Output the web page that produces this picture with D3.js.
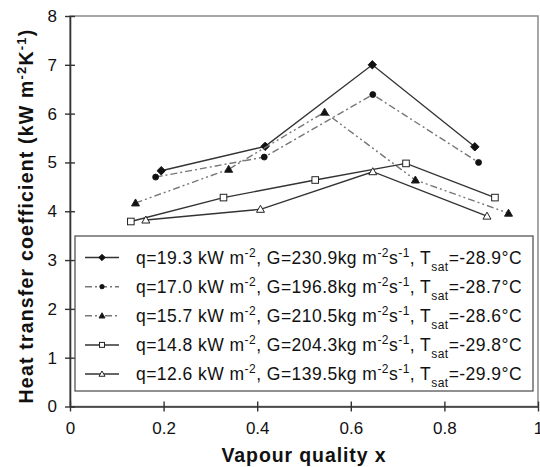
<!DOCTYPE html>
<html>
<head>
<meta charset="utf-8">
<script src="https://cdn.jsdelivr.net/npm/d3@7"></script>
<style>
  html, body { margin: 0; padding: 0; background: #fff; }
  svg { display: block; font-family: "Liberation Sans", Arial, sans-serif; }
</style>
</head>
<body>
<svg id="chart" width="540" height="467"></svg>
<script>
// Vapour quality (x) and heat transfer coefficient (kW m-2 K-1) for each test run
const s1x = [0.195, 0.417, 0.646, 0.865];
const s1y = [4.83, 5.33, 7.00, 5.32];
const s2x = [0.183, 0.415, 0.647, 0.873];
const s2y = [4.70, 5.11, 6.39, 5.00];
const s3x = [0.140, 0.339, 0.544, 0.738, 0.937];
const s3y = [4.17, 4.86, 6.03, 4.64, 3.96];
const s4x = [0.130, 0.328, 0.524, 0.718, 0.908];
const s4y = [3.79, 4.28, 4.64, 4.98, 4.28];
const s5x = [0.162, 0.407, 0.647, 0.891];
const s5y = [3.82, 4.04, 4.81, 3.90];

const xTicks = [0, 0.2, 0.4, 0.6, 0.8, 1];
const yTicks = [0, 1, 2, 3, 4, 5, 6, 7, 8];

// Legend text pieces: q, G, Tsat
const legendQ = ["19.3", "17.0", "15.7", "14.8", "12.6"];
const legendG = ["230.9", "196.8", "210.5", "204.3", "139.5"];
const legendT = ["-28.9", "-28.7", "-28.6", "-29.8", "-29.9"];

const series = [
  { x: s1x, y: s1y, marker: "diamond", fill: true,  dash: null,          color: "#333" },
  { x: s2x, y: s2y, marker: "circle",  fill: true,  dash: "7,3,2,3",     color: "#777" },
  { x: s3x, y: s3y, marker: "triangle",fill: true,  dash: "7,3,2,3,2,3", color: "#777" },
  { x: s4x, y: s4y, marker: "square",  fill: false, dash: null,          color: "#333" },
  { x: s5x, y: s5y, marker: "triangle",fill: false, dash: null,          color: "#333" }
];

const svg = d3.select("#chart");
const mLeft = 70, mRight = 538, mTop = 16, mBottom = 406.5;

const x = d3.scaleLinear().domain([0, 1]).range([mLeft, mRight]);
const y = d3.scaleLinear().domain([0, 8]).range([mBottom, mTop]);

// stretch a text's letter spacing so that it spans a given width
function fitWidth(sel, target) {
  const node = sel.node();
  const len = node.getComputedTextLength();
  const n = node.textContent.length;
  if (n > 1) sel.style("letter-spacing", ((target - len) / n) + "px");
}

// plot frame
svg.append("rect")
  .attr("x", mLeft).attr("y", mTop)
  .attr("width", mRight - mLeft).attr("height", mBottom - mTop)
  .attr("fill", "none").attr("stroke", "#8a8a8a").attr("stroke-width", 1.5);

// axes
const yAxis = d3.axisLeft(y).tickValues(yTicks).tickSizeInner(5).tickSizeOuter(0).tickPadding(8);
const gy = svg.append("g").attr("transform", `translate(${mLeft},0)`).call(yAxis);
const xAxis = d3.axisBottom(x).tickValues(xTicks).tickFormat(d3.format("")).tickSizeInner(5).tickSizeOuter(0).tickPadding(10);
const gx = svg.append("g").attr("transform", `translate(0,${mBottom})`).call(xAxis);

[gy, gx].forEach(g => {
  g.select(".domain").attr("stroke", "#333").attr("stroke-width", 1.6);
  g.selectAll(".tick line").attr("stroke", "#333").attr("stroke-width", 1.4);
  g.selectAll(".tick text").attr("fill", "#111").style("font-size", "17px").style("font-family", "Liberation Sans, Arial, sans-serif");
});
// ticks cross the axis line
gy.selectAll(".tick line").attr("x1", 5).attr("x2", -5);
gx.selectAll(".tick line").attr("y1", -5).attr("y2", 5);

// axis titles
const xt = svg.append("text")
  .attr("x", 304).attr("y", 462)
  .attr("text-anchor", "middle")
  .style("font-size", "19.5px").style("font-weight", "bold").attr("fill", "#111")
  .text("Vapour quality x");
fitWidth(xt, 165);

const yt = svg.append("text")
  .attr("transform", "translate(33,216) rotate(-90)")
  .attr("text-anchor", "middle")
  .style("font-size", "19.5px").style("font-weight", "bold").attr("fill", "#111");
yt.append("tspan").text("Heat transfer coefficient  (kW m");
yt.append("tspan").attr("baseline-shift", "super").style("font-size", "13px").text("-2");
yt.append("tspan").text("K");
yt.append("tspan").attr("baseline-shift", "super").style("font-size", "13px").text("-1");
yt.append("tspan").text(")");
fitWidth(yt, 376);

function drawMarker(g, type, fill, color, cx, cy, scale) {
  const s = scale || 1;
  const f = fill ? "#111" : "#fff";
  if (type === "diamond") {
    const r = 4.2 * s;
    g.append("path").attr("d", `M${cx},${cy - r}L${cx + r},${cy}L${cx},${cy + r}L${cx - r},${cy}Z`)
      .attr("fill", f).attr("stroke", "#111").attr("stroke-width", 1);
  } else if (type === "circle") {
    g.append("circle").attr("cx", cx).attr("cy", cy).attr("r", 3 * s)
      .attr("fill", f).attr("stroke", "#111").attr("stroke-width", 0.8);
  } else if (type === "triangle") {
    const r = 4 * s;
    g.append("path").attr("d", `M${cx},${cy - r}L${cx + r},${cy + r * 0.75}L${cx - r},${cy + r * 0.75}Z`)
      .attr("fill", f).attr("stroke", "#222").attr("stroke-width", 1);
  } else if (type === "square") {
    const r = 3.3 * s;
    g.append("rect").attr("x", cx - r).attr("y", cy - r).attr("width", 2 * r).attr("height", 2 * r)
      .attr("fill", f).attr("stroke", "#222").attr("stroke-width", 1);
  }
}

// series lines and markers
const line = d3.line().x(d => x(d[0])).y(d => y(d[1]));
series.forEach(s => {
  const pts = s.x.map((v, i) => [v, s.y[i]]);
  svg.append("path").attr("d", line(pts))
    .attr("fill", "none").attr("stroke", s.color).attr("stroke-width", 1.4)
    .attr("stroke-dasharray", s.dash);
  const g = svg.append("g");
  pts.forEach(p => drawMarker(g, s.marker, s.fill, s.color, x(p[0]), y(p[1])));
});

// legend
const lg = svg.append("g");
lg.append("rect").attr("x", 75).attr("y", 236).attr("width", 458).attr("height", 155)
  .attr("fill", "#fff").attr("stroke", "#555").attr("stroke-width", 1.3);
const rowY = d3.scaleLinear().domain([0, 4]).range([257.5, 374]);
series.forEach((s, i) => {
  const cy = rowY(i);
  lg.append("line").attr("x1", 85).attr("x2", 119).attr("y1", cy).attr("y2", cy)
    .attr("stroke", s.color).attr("stroke-width", 1.5).attr("stroke-dasharray", s.dash);
  drawMarker(lg, s.marker, s.fill, s.color, 102, cy, 0.75);
  const t = lg.append("text").attr("x", 136).attr("y", cy + 6)
    .style("font-size", "17.5px").attr("fill", "#111");
  t.append("tspan").text(`q=${legendQ[i]} kW m`);
  t.append("tspan").attr("baseline-shift", "super").style("font-size", "12px").text("-2");
  t.append("tspan").text(`, G=${legendG[i]}kg m`);
  t.append("tspan").attr("baseline-shift", "super").style("font-size", "12px").text("-2");
  t.append("tspan").text("s");
  t.append("tspan").attr("baseline-shift", "super").style("font-size", "12px").text("-1");
  t.append("tspan").text(", T");
  t.append("tspan").attr("baseline-shift", "sub").style("font-size", "12px").text("sat");
  t.append("tspan").text(`=${legendT[i]}°C`);
  fitWidth(t, 386);
});
</script>
</body>
</html>
